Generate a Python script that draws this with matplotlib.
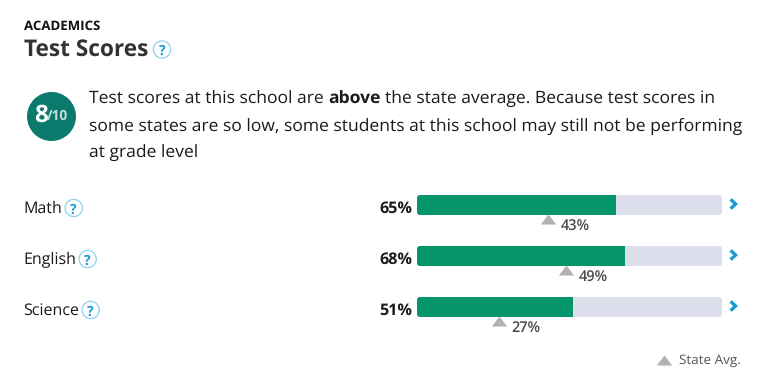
import matplotlib
matplotlib.use("Agg")
import numpy as np
import matplotlib.pyplot as plt
from matplotlib.patches import Circle, FancyBboxPatch
from matplotlib.transforms import IdentityTransform

subjects = ["Math", "English", "Science"]
school_scores = [65, 68, 51]
state_scores = [43, 49, 27]
full_scale = [100, 100, 100]

W, H = 767, 387
plt.rcParams['font.family'] = ['Open Sans', 'DejaVu Sans']
plt.rcParams['text.hinting'] = 'none'
plt.rcParams['text.hinting_factor'] = 8
fig = plt.figure(figsize=(W / 100, H / 100), dpi=100, facecolor='white')
rend = fig.canvas.get_renderer()


def fit_size(text, width, weight='normal', lo=8.0, hi=20.0):
    """Pick the font size whose rendered width is closest to the wanted one."""
    best, err = lo, 1e9
    for fs in np.arange(lo, hi, 0.05):
        t = fig.text(0, 0, text, fontsize=fs, fontweight=weight)
        e = abs(t.get_window_extent(rend).width - width)
        t.remove()
        if e < err:
            best, err = fs, e
    return best


ov = fig.add_axes([0, 0, 1, 1])
ov.set_xlim(0, W)
ov.set_ylim(H, 0)
ov.axis('off')

# bar axes: track runs 417..722 px, rows centred at 205, 256, 307 px
top, bottom = 179.5, 332.5
bx = fig.add_axes([417 / W, 1 - bottom / H, 305 / W, (bottom - top) / H])
bar_shift = 0.3
bx.set_xlim(0, 100)
bx.set_ylim(2.5, -0.5)
bx.axis('off')
bx.patch.set_alpha(0)
ypos = list(range(len(subjects)))
bar_h = 20 / 51

bg = bx.barh(ypos, full_scale, height=bar_h, color='#dcdeec', linewidth=0)
fg = bx.barh(ypos, [v + bar_shift for v in school_scores], height=bar_h,
             color='#04966a', linewidth=0)
for i in ypos:
    cy = 205 + 51 * i
    clip = FancyBboxPatch((417, H - cy - 10), 305, 20,
                          boxstyle='round,pad=0,rounding_size=3',
                          transform=IdentityTransform(), fc='none', ec='none')
    bg[i].set_clip_path(clip)
    fg[i].set_clip_path(clip)

tri = [(-1, -0.66), (1, -0.66), (0, 0.66)]
bx.plot(state_scores, [y + 0.284 for y in ypos], linestyle='none', marker=tri,
        markersize=11, markerfacecolor='#b1b1b1', markeredgewidth=0, clip_on=False)
avg_fs = fit_size("43%", 29, 'semibold')
pct_fs = fit_size("65%", 33, 'bold')
for y, v in zip(ypos, state_scores):
    bx.annotate(f"{v}%", (v, y), xytext=(12.5, -22), textcoords='offset pixels',
                fontsize=avg_fs, fontweight='semibold', color='#4a4a4a',
                va='center', ha='left', annotation_clip=False)
    bx.annotate(f"{school_scores[y]}%", (0, y), xytext=(-5, -4), textcoords='offset pixels',
                fontsize=pct_fs, fontweight='bold', color='#1c1c1c',
                va='center', ha='right', annotation_clip=False)
    cy = 204 + 51 * y
    ov.plot([730.6, 735.6, 730.6], [cy - 4.6, cy, cy + 4.6], color='#1a9bd7', lw=2.4,
            solid_joinstyle='miter', solid_capstyle='butt')


def help_icon(cx, cy, r=8.6, fs=10):
    ov.add_patch(Circle((cx, cy), r, fc='white', ec='#8ed0ee', lw=0.9))
    ov.text(cx, cy, "?", fontsize=fs, fontweight='bold', color='#1a9bd7',
            ha='center', va='center_baseline')


ov.text(23.5, 26, "ACADEMICS", fontsize=fit_size("ACADEMICS", 76.5, 'bold'), fontweight='bold',
        color='#111111', va='center')
ov.text(23.5, 49.5, "Test Scores", fontsize=fit_size("Test Scores", 124.5, 'bold'), fontweight='bold',
        color='#333333', va='center')
help_icon(162, 49.5)

ov.add_patch(Circle((51.5, 116.5), 24.5, fc='#0b7a6d', ec='none'))
ov.text(41.5, 116, "8", fontsize=17.5, fontweight='bold', color='white', ha='center', va='center')
ov.text(57.5, 116, "/10", fontsize=9.8, fontweight='bold', color='#c5dcd9', ha='center', va='center')

body_color = '#1a1a1a'
line2 = "some states are so low, some students at this school may still not be performing"
body_fs = fit_size(line2, 651)
t1 = ov.text(89, 104, "Test scores at this school are", fontsize=body_fs, color=body_color, va='baseline')
x = t1.get_window_extent(rend).x1 + 4.5
t2 = ov.text(x, 104, "above", fontsize=body_fs, fontweight='bold', color=body_color, va='baseline')
x = t2.get_window_extent(rend).x1 + 4.5
ov.text(x, 104, "the state average. Because test scores in", fontsize=body_fs, color=body_color, va='baseline')
ov.text(89, 131, line2, fontsize=body_fs, color=body_color, va='baseline')
ov.text(89, 158, "at grade level", fontsize=body_fs, color=body_color, va='baseline')

icon_x = [73.7, 87.7, 90.7]
for i, (name, ix) in enumerate(zip(subjects, icon_x)):
    cy = 208 + 51 * i
    ov.text(23.5, 213 + 51 * i, name, fontsize=fit_size("English", 53), color='#1a1a1a', va='baseline')
    help_icon(ix, cy)

ov.plot([664], [359.5], linestyle='none', marker=tri, markersize=11,
        markerfacecolor='#b1b1b1', markeredgewidth=0)
ov.text(679, 361, "State Avg.", fontsize=fit_size("State Avg.", 62), color='#555555', va='center')

fig.savefig("out.png", dpi=100, facecolor='white')
